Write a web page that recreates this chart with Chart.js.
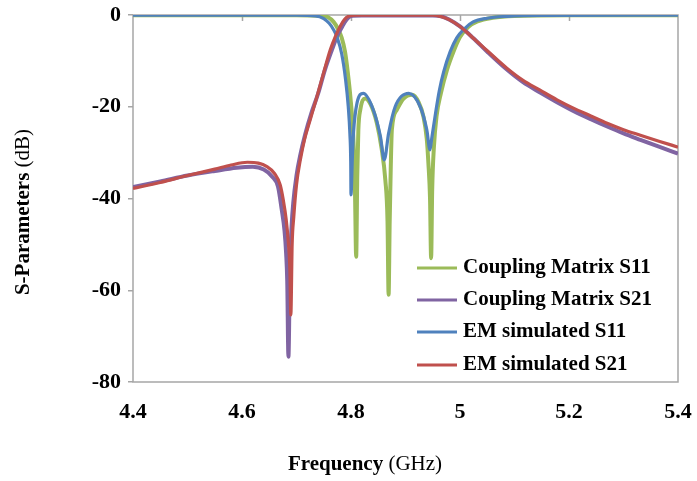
<!DOCTYPE html>
<html>
<head>
<meta charset="utf-8">
<script src="https://cdn.jsdelivr.net/npm/chart.js@4.4.0/dist/chart.umd.min.js"></script>
<style>
  body { margin: 0; background: #fff; }
  #wrap { width: 697px; height: 481px; }
</style>
</head>
<body>
<div id="wrap"><canvas id="sparams"></canvas></div>
<script>
// Coupling Matrix S11
let cm_s11_freq = [4.40, 4.70, 4.745, 4.758, 4.768, 4.776, 4.783, 4.789, 4.794, 4.799, 4.804, 4.807, 4.8095, 4.8115, 4.8135, 4.817, 4.826, 4.836, 4.8475, 4.856, 4.863, 4.867, 4.869, 4.871, 4.873, 4.875, 4.884, 4.896, 4.912, 4.924, 4.933, 4.939, 4.942, 4.945, 4.947, 4.949, 4.952, 4.957, 4.965, 4.976, 4.988, 5.000, 5.015, 5.032, 5.06, 5.10, 5.20, 5.40];
let cm_s11_db   = [-0.05, -0.05, -0.2, -0.5, -1.5, -3, -5, -8, -12.4, -18, -26, -36, -52.7, -35, -25, -20.7, -18.2, -19.5, -23.6, -29, -36, -45, -61, -45, -33, -25, -20.7, -18.3, -17.4, -19, -22.2, -27, -32.3, -40, -53, -38, -29, -22, -17, -12, -8, -4.8, -2.6, -1.4, -0.6, -0.2, -0.05, -0.05];

// Coupling Matrix S21
let cm_s21_freq = [4.40, 4.45, 4.50, 4.55, 4.59, 4.62, 4.64, 4.655, 4.666, 4.673, 4.678, 4.681, 4.683, 4.6852, 4.688, 4.691, 4.694, 4.700, 4.707, 4.716, 4.727, 4.740, 4.752, 4.765, 4.775, 4.784, 4.792, 4.800, 4.82, 4.95, 4.966, 4.98, 5.00, 5.024, 5.05, 5.086, 5.115, 5.147, 5.178, 5.208, 5.24, 5.27, 5.30, 5.331, 5.365, 5.40];
let cm_s21_db   = [-37.5, -36.3, -35.0, -34.0, -33.3, -33.1, -33.7, -35.2, -37.4, -42.5, -47, -52, -58, -74.5, -55, -46, -41, -35, -30.5, -26, -21.5, -17, -12, -7.6, -4.5, -2.5, -1, -0.2, -0.1, -0.1, -0.3, -1, -2.5, -5, -8, -11.9, -14.6, -16.9, -19.0, -20.9, -22.7, -24.3, -25.8, -27.2, -28.7, -30.2];

// EM simulated S11
let em_s11_freq = [4.40, 4.70, 4.735, 4.75, 4.76, 4.768, 4.775, 4.783, 4.790, 4.795, 4.798, 4.7995, 4.800, 4.8025, 4.8045, 4.811, 4.8225, 4.841, 4.854, 4.861, 4.869, 4.881, 4.906, 4.927, 4.939, 4.945, 4.948, 4.955, 4.962, 4.970, 4.982, 4.994, 5.008, 5.024, 5.05, 5.087, 5.15, 5.40];
let em_s11_db   = [-0.05, -0.05, -0.2, -0.8, -1.8, -3.2, -5, -8.5, -14, -20, -26, -32, -39.2, -31, -25.8, -19.2, -17.1, -20.7, -26.5, -31.6, -25.8, -20, -17.1, -20, -25, -29.4, -27, -21.5, -16.5, -12.4, -8, -5, -3, -1.5, -0.7, -0.3, -0.1, -0.05];

// EM simulated S21
let em_s21_freq = [4.40, 4.45, 4.50, 4.55, 4.58, 4.61, 4.63, 4.645, 4.66, 4.67, 4.676, 4.681, 4.685, 4.688, 4.6896, 4.692, 4.695, 4.700, 4.707, 4.715, 4.725, 4.737, 4.750, 4.762, 4.772, 4.780, 4.788, 4.795, 4.81, 4.95, 4.964, 4.98, 5.00, 5.024, 5.05, 5.086, 5.115, 5.147, 5.178, 5.208, 5.24, 5.27, 5.30, 5.331, 5.365, 5.40];
let em_s21_db   = [-37.8, -36.5, -35.0, -33.6, -32.7, -32.1, -32.3, -33.0, -34.6, -37.0, -40.5, -44.5, -49.5, -56, -65.4, -50, -44, -37, -31.6, -27, -22.9, -18, -12.5, -7.6, -4.5, -2.5, -1, -0.3, -0.05, -0.05, -0.3, -1.0, -2.5, -5, -7.8, -11.6, -14.2, -16.4, -18.5, -20.3, -22.0, -23.6, -25.0, -26.2, -27.5, -28.8];

let series_names = ['Coupling Matrix S11', 'Coupling Matrix S21', 'EM simulated S11', 'EM simulated S21'];
let series_colors = ['#9BBB59', '#8064A2', '#4F81BD', '#C0504D'];
let x_ticks = [4.4, 4.6, 4.8, 5.0, 5.2, 5.4];
let y_ticks = [0, -20, -40, -60, -80];

const SERIF = '"Liberation Serif", "Times New Roman", serif';
const GRAY = '#A6A6A6';

function toPoints(freq, db){
  let pts = [];
  for(let i = 0; i < freq.length; i++){
    pts.push({x: freq[i], y: db[i]});
  }
  return pts;
}

let all_freq = [cm_s11_freq, cm_s21_freq, em_s11_freq, em_s21_freq];
let all_db = [cm_s11_db, cm_s21_db, em_s11_db, em_s21_db];
let widths = [4, 4, 3.2, 3.2];

let datasets = [];
for(let i = 0; i < 4; i++){
  datasets.push({
    label: series_names[i],
    data: toPoints(all_freq[i], all_db[i]),
    borderColor: series_colors[i],
    backgroundColor: series_colors[i],
    borderWidth: widths[i],
    pointRadius: 0,
    cubicInterpolationMode: 'monotone',
    order: 4 - i
  });
}

// plot frame + top x ticks (excel-style axis sits on the 0 dB line)
const framePlugin = {
  id: 'frame',
  beforeDatasetsDraw(chart){
    const ctx = chart.ctx;
    const a = chart.chartArea;
    const xs = chart.scales.x;
    ctx.save();
    ctx.strokeStyle = GRAY;
    ctx.lineWidth = 1.5;
    ctx.strokeRect(a.left, a.top, a.right - a.left, a.bottom - a.top);
    for(let i = 1; i < x_ticks.length - 1; i++){
      let px = Math.round(xs.getPixelForValue(x_ticks[i])) + 0.5;
      ctx.beginPath();
      ctx.moveTo(px, a.top);
      ctx.lineTo(px, a.top + 6);
      ctx.stroke();
    }
    ctx.restore();
  }
};

// legend inside the plot, lower right
const legendPlugin = {
  id: 'insideLegend',
  afterDatasetsDraw(chart){
    const ctx = chart.ctx;
    ctx.save();
    ctx.font = 'bold 21px ' + SERIF;
    ctx.textBaseline = 'middle';
    ctx.fillStyle = '#000';
    let rows = [268, 300, 332, 365];
    for(let i = 0; i < series_names.length; i++){
      ctx.strokeStyle = series_colors[i];
      ctx.lineWidth = 3;
      ctx.beginPath();
      ctx.moveTo(417, rows[i]);
      ctx.lineTo(457, rows[i]);
      ctx.stroke();
      ctx.fillText(series_names[i], 463, rows[i]);
    }
    ctx.restore();
  }
};

// axis titles with bold + normal parts
function mixedText(ctx, parts, cx, cy){
  let total = 0;
  for(let p of parts){
    ctx.font = p[1] + ' 21px ' + SERIF;
    total += ctx.measureText(p[0]).width;
  }
  let x = cx - total / 2;
  for(let p of parts){
    ctx.font = p[1] + ' 21px ' + SERIF;
    ctx.fillText(p[0], x, cy);
    x += ctx.measureText(p[0]).width;
  }
}

const titlePlugin = {
  id: 'axisTitles',
  afterDraw(chart){
    const ctx = chart.ctx;
    ctx.save();
    ctx.fillStyle = '#000';
    ctx.textBaseline = 'alphabetic';
    ctx.textAlign = 'left';
    mixedText(ctx, [['Frequency ', 'bold'], ['(GHz)', 'normal']], 365, 470);
    ctx.translate(29, 212);
    ctx.rotate(-Math.PI / 2);
    mixedText(ctx, [['S-Parameters ', 'bold'], ['(dB)', 'normal']], 0, 0);
    ctx.restore();
  }
};

const ctx = document.getElementById('sparams');
new Chart(ctx, {
  type: 'line',
  data: { datasets: datasets },
  options: {
    responsive: true,
    maintainAspectRatio: false,
    animation: false,
    layout: { padding: { left: 0, right: 19, top: 15, bottom: 0 } },
    plugins: {
      legend: { display: false },
      tooltip: { enabled: false }
    },
    scales: {
      x: {
        type: 'linear',
        min: 4.4,
        max: 5.4,
        afterBuildTicks(scale){ scale.ticks = x_ticks.map(v => ({value: v})); },
        afterFit(scale){ scale.height = 99; scale.paddingLeft = 0; scale.paddingRight = 0; },
        grid: { display: false },
        border: { display: false },
        ticks: {
          padding: 9,
          color: '#000',
          font: { family: SERIF, size: 22, weight: 'bold' },
          callback: v => String(Math.round(v * 10) / 10)
        }
      },
      y: {
        min: -80,
        max: 0,
        afterBuildTicks(scale){ scale.ticks = y_ticks.map(v => ({value: v})); },
        afterFit(scale){ scale.width = 133; scale.paddingTop = 0; scale.paddingBottom = 0; },
        grid: { drawOnChartArea: false, tickLength: 5, color: GRAY, lineWidth: 1.5 },
        border: { display: false },
        ticks: {
          padding: 7,
          color: '#000',
          font: { family: SERIF, size: 22, weight: 'bold' }
        }
      }
    }
  },
  plugins: [framePlugin, legendPlugin, titlePlugin]
});
</script>
</body>
</html>
